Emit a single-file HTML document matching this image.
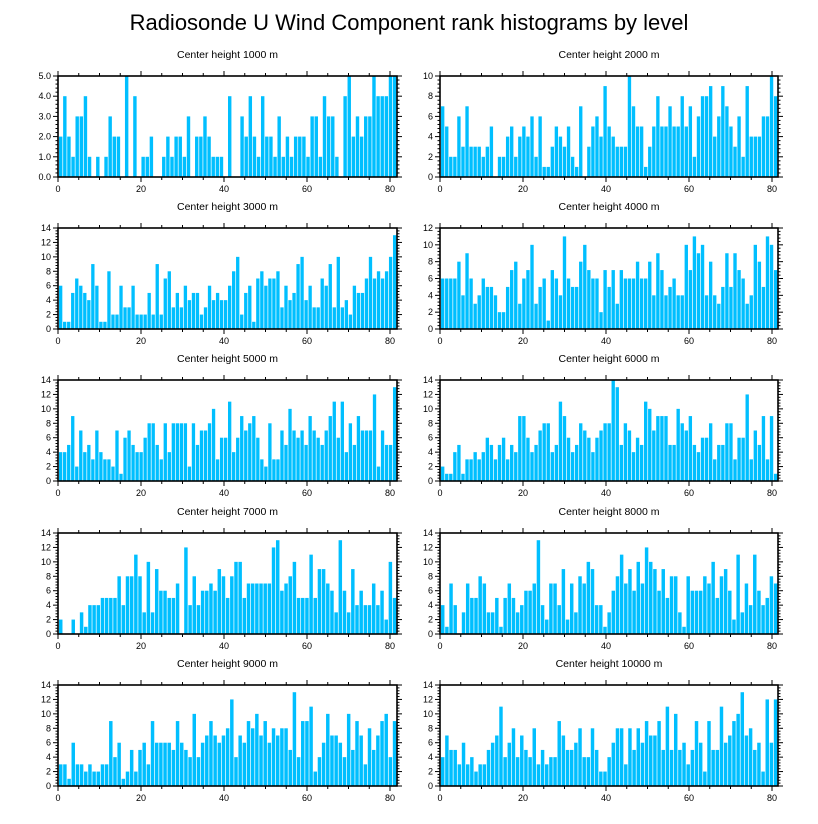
<!DOCTYPE html>
<html><head><meta charset="utf-8"><style>
body{margin:0;background:#fff;}
svg{display:block;font-family:"Liberation Sans",sans-serif;}
</style></head><body>
<svg id="chart" width="818" height="824" viewBox="0 0 818 824" xmlns="http://www.w3.org/2000/svg">
<rect width="818" height="824" fill="#fff"/>
<text x="409" y="30" text-anchor="middle" font-size="22">Radiosonde U Wind Component rank histograms by level</text>
</svg>
<script>
const panelTitles = ["Center height 1000 m","Center height 2000 m","Center height 3000 m","Center height 4000 m","Center height 5000 m","Center height 6000 m","Center height 7000 m","Center height 8000 m","Center height 9000 m","Center height 10000 m"];
const yMaxes = [5,10,14,12,14,14,14,14,14,14];
const yStepLabels = [1,2,2,2,2,2,2,2,2,2];
const xTickLabels = [0,20,40,60,80];
const h1000 = [2,4,2,1,3,3,4,1,0,1,0,1,3,2,2,0,5,0,4,0,1,1,2,0,0,1,2,1,2,2,1,3,0,2,2,3,2,1,1,1,0,4,0,0,3,2,4,2,1,4,2,2,1,3,1,2,1,2,2,2,1,3,3,1,4,3,3,1,0,4,5,2,3,2,3,3,5,4,4,4,5,5];
const h2000 = [7,5,2,2,6,3,7,3,3,3,2,3,5,0,2,2,4,5,2,4,5,4,6,2,6,1,1,3,5,4,3,5,2,1,7,0,3,5,6,4,9,5,4,3,3,3,10,7,5,5,1,3,5,8,5,5,7,5,5,8,5,7,2,6,8,8,9,4,6,9,7,5,3,6,2,9,4,4,4,6,6,10,8];
const h3000 = [6,1,1,5,7,6,5,4,9,6,1,1,8,2,2,6,3,3,6,2,2,2,5,2,9,2,7,8,3,5,3,6,4,5,5,2,3,6,4,5,4,4,6,8,10,2,5,6,1,7,8,6,7,7,8,3,6,4,5,9,10,4,6,3,3,7,6,9,3,10,3,4,2,6,5,5,7,10,7,8,7,8,10,13];
const h4000 = [6,6,6,6,8,4,9,6,3,4,6,5,5,4,2,2,5,7,8,3,6,7,10,3,5,6,1,7,6,4,11,6,5,5,8,10,7,6,6,2,7,5,7,3,7,6,6,6,8,6,6,8,4,9,7,4,5,6,4,4,10,7,11,9,10,4,8,4,3,5,9,5,9,7,6,3,4,10,8,5,11,10,7];
const h5000 = [4,4,5,9,2,7,4,5,3,7,4,3,3,2,7,1,6,7,5,4,4,6,8,8,5,3,8,4,8,8,8,8,2,8,5,7,7,8,10,3,6,6,11,4,6,9,7,8,9,6,3,2,8,3,3,7,5,10,7,6,7,5,9,7,6,5,7,9,11,6,11,4,8,5,9,7,7,7,12,2,7,5,5,13];
const h6000 = [2,1,1,4,5,1,3,3,4,3,4,6,5,3,5,6,3,5,4,9,9,6,4,5,7,8,8,4,5,11,9,6,4,5,8,7,6,4,6,7,8,8,14,13,5,8,7,4,6,5,11,10,7,9,9,9,5,5,10,8,7,9,5,4,6,6,8,3,5,5,8,8,3,6,6,12,3,7,5,9,3,9,1];
const h7000 = [2,0,0,2,0,3,1,4,4,4,5,5,5,5,8,4,8,8,11,8,3,10,3,9,6,6,5,5,7,0,12,4,8,4,6,6,7,6,9,8,5,8,10,10,5,7,7,7,7,7,7,12,13,6,7,8,10,5,5,5,11,5,9,9,7,6,3,13,6,3,9,4,6,4,4,7,4,6,2,10,5];
const h8000 = [4,1,7,4,0,3,7,5,5,8,7,3,3,5,1,5,7,5,3,4,6,6,7,13,4,2,7,7,4,9,2,7,3,8,7,10,9,4,4,1,3,6,8,11,7,9,6,10,7,12,10,9,6,9,5,8,8,3,1,8,6,6,6,8,7,10,5,8,9,6,2,11,3,7,4,11,6,4,5,8,7];
const h9000 = [3,3,1,6,3,3,2,3,2,2,3,3,9,4,6,1,2,5,2,5,6,3,9,6,6,6,6,5,9,6,5,4,10,4,6,7,9,7,6,7,8,12,4,7,6,9,8,10,7,9,6,8,7,8,8,5,13,4,9,9,11,2,4,6,10,7,7,6,4,10,5,9,7,3,8,5,7,9,10,4,9];
const h10000 = [4,7,5,5,3,6,3,4,2,3,3,5,6,7,11,4,6,8,4,7,5,4,8,3,5,3,4,4,9,7,5,5,6,8,4,4,8,5,2,2,4,6,8,8,3,8,5,8,6,9,7,7,9,5,11,5,10,5,6,3,5,9,6,2,9,5,5,11,6,7,9,10,13,7,8,5,6,2,12,6,12];
const allSeries = [h1000,h2000,h3000,h4000,h5000,h6000,h7000,h8000,h9000,h10000];

const NS="http://www.w3.org/2000/svg";
const svg=document.getElementById('chart');
function mk(tag,attrs,parent){const e=document.createElementNS(NS,tag);for(const k in attrs)e.setAttribute(k,attrs[k]);(parent||svg).appendChild(e);return e;}
const lefts=[58,440], widths=[339,338], tops=[76,228,380,533,685], H=101;
allSeries.forEach((vals,p)=>{
  const col=p%2,row=Math.floor(p/2);
  const L=lefts[col],W=widths[col],T=tops[row],B=T+H;
  const g=mk('g',{});
  
  
  const xs=v=>L+v*(332/80);
  const ymax=yMaxes[p];
  const ys=v=>B-v/ymax*H;
  vals.forEach((v,i)=>{
    const r=mk('rect',{x:(L+1+i*(W-1)/vals.length).toFixed(2),y:ys(v).toFixed(2),width:Math.max(0,(W-1)/vals.length-0.7).toFixed(2),height:(B-ys(v)).toFixed(2),fill:'#00BFFF'},g);
    
    
  });
  mk('rect',{x:L,y:T,width:W,height:H,fill:'none',stroke:'#000','stroke-width':1.6},g);
  const t=mk('text',{x:L+W/2,y:T-18,'text-anchor':'middle','font-size':10.5},g);
  t.textContent=panelTitles[p];
  
  
  for(let v=0;v<=80;v+=5){
    const x=xs(v),len=v%20===0?5:3;
    mk('line',{x1:x,y1:B,x2:x,y2:B+len,stroke:'#000','stroke-width':1},g);
    mk('line',{x1:x,y1:T,x2:x,y2:T-len,stroke:'#000','stroke-width':1},g);
  }
  xTickLabels.forEach(v=>{
    const tx=mk('text',{x:xs(v),y:B+15,'text-anchor':'middle','font-size':9},g);
    tx.textContent=v;
    
    
  });
  const step=yStepLabels[p],minor=step/5;
  for(let v=0;v<=ymax+1e-9;v+=minor){
    const y=ys(v),major=Math.abs(v/step-Math.round(v/step))<1e-6,len=major?5:2.5;
    mk('line',{x1:L,y1:y,x2:L-len,y2:y,stroke:'#000','stroke-width':1},g);
    mk('line',{x1:L+W,y1:y,x2:L+W+len,y2:y,stroke:'#000','stroke-width':1},g);
  }
  for(let v=0;v<=ymax+1e-9;v+=step){
    const ty=mk('text',{x:L-7,y:ys(v)+3,'text-anchor':'end','font-size':9},g);
    ty.textContent=ymax===5?v.toFixed(1):v;
    
    
  }
});
</script>
</body></html>
